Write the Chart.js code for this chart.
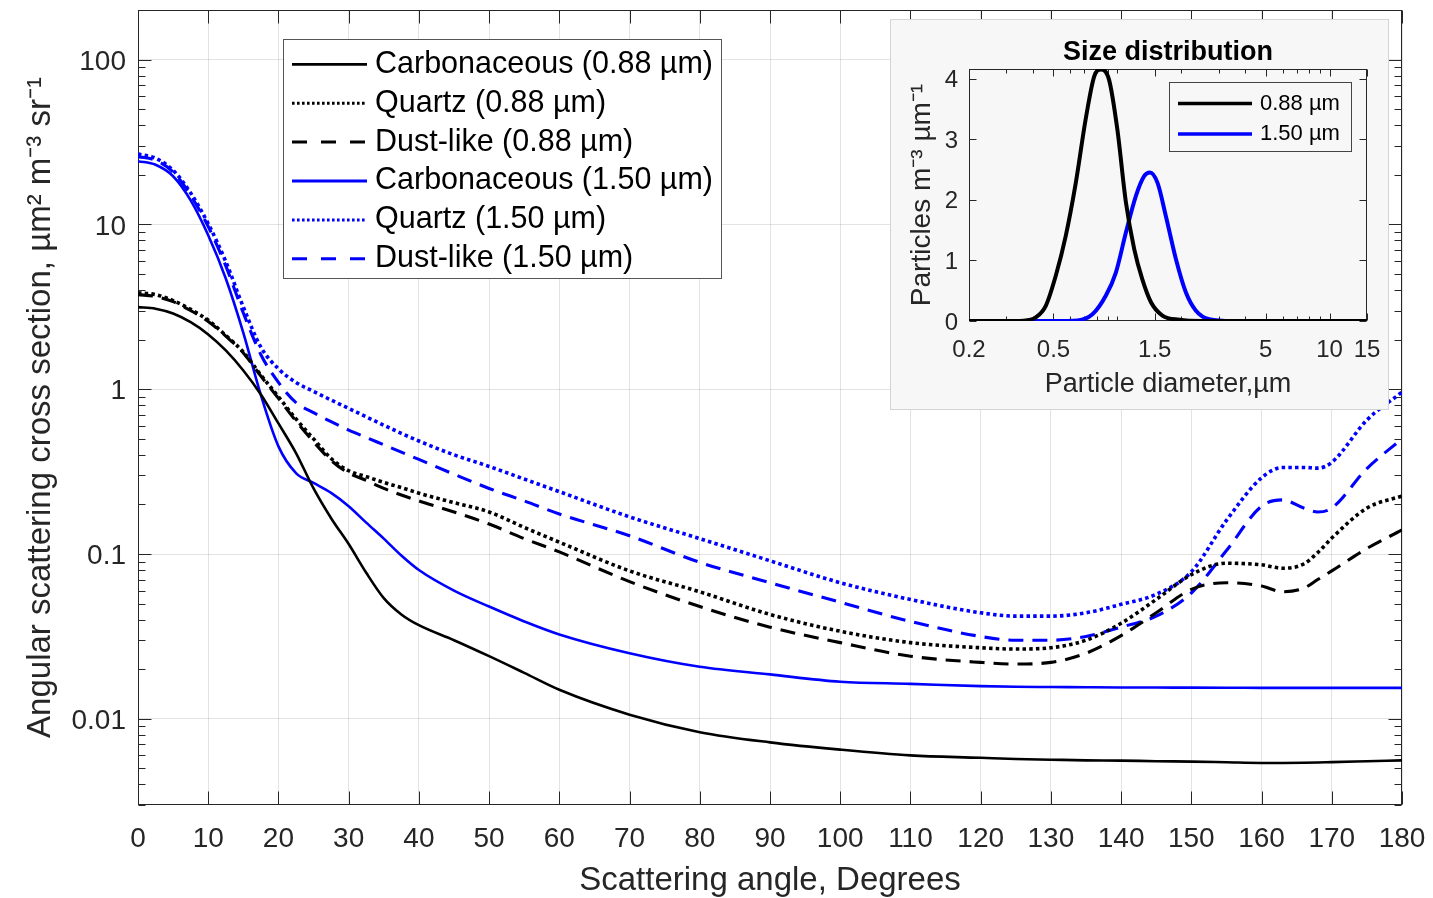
<!DOCTYPE html>
<html>
<head>
<meta charset="utf-8">
<title>Angular scattering cross section</title>
<script src="https://cdn.jsdelivr.net/npm/chart.js@4.4.1/dist/chart.umd.min.js"></script>
<style>
  html, body { margin: 0; padding: 0; background: #ffffff; }
  #wrap { position: relative; width: 1433px; height: 898px; overflow: hidden; background: #ffffff; }
  #main { position: absolute; left: 0; top: 0; }
  #inset { position: absolute; left: 890px; top: 19px; }
</style>
</head>
<body>
<div id="wrap">
  <canvas id="main" width="1433" height="898"></canvas>
  <canvas id="inset" width="499" height="391"></canvas>
</div>
<script>
// ---------------- DATA ----------------
const angles = [0, 2.5, 5, 7.5, 10, 12.5, 15, 17.5, 20, 22.5, 25, 27.5, 30, 32.5, 35, 37.5, 40, 45, 50, 55, 60, 70, 80, 90, 100, 110, 120, 125, 130, 135, 140, 145, 150, 155, 160, 163, 166, 168, 170, 175, 180];

const carbonaceous088 = [3.15, 3.08, 2.88, 2.55, 2.15, 1.72, 1.3, 0.93, 0.62, 0.41, 0.25, 0.165, 0.115, 0.077, 0.054, 0.043, 0.037, 0.030, 0.024, 0.019, 0.015, 0.0106, 0.0083, 0.0072, 0.0065, 0.0060, 0.0058, 0.0057, 0.00565, 0.0056, 0.00558, 0.00553, 0.0055, 0.00545, 0.0054, 0.0054, 0.00541, 0.00543, 0.00546, 0.00553, 0.0056];
const quartz088 = [3.85, 3.75, 3.45, 3.05, 2.62, 2.12, 1.68, 1.22, 0.9, 0.66, 0.5, 0.38, 0.32, 0.295, 0.272, 0.253, 0.234, 0.205, 0.18, 0.145, 0.118, 0.079, 0.059, 0.043, 0.034, 0.029, 0.027, 0.0265, 0.027, 0.030, 0.038, 0.053, 0.075, 0.088, 0.086, 0.082, 0.087, 0.102, 0.125, 0.19, 0.225];
const dustlike088 = [3.75, 3.65, 3.4, 3.0, 2.58, 2.1, 1.66, 1.2, 0.88, 0.64, 0.48, 0.37, 0.31, 0.28, 0.25, 0.228, 0.21, 0.18, 0.152, 0.124, 0.103, 0.068, 0.048, 0.036, 0.029, 0.024, 0.022, 0.0215, 0.022, 0.025, 0.032, 0.044, 0.061, 0.067, 0.064, 0.059, 0.062, 0.07, 0.079, 0.108, 0.14];
const carbonaceous150 = [24.2, 23.0, 19.6, 14.0, 8.6, 4.7, 2.2, 0.92, 0.45, 0.31, 0.27, 0.235, 0.195, 0.155, 0.124, 0.098, 0.08, 0.06, 0.048, 0.039, 0.0325, 0.025, 0.0207, 0.0186, 0.0168, 0.0163, 0.0158, 0.01565, 0.0156, 0.01555, 0.0155, 0.01548, 0.01546, 0.01544, 0.01542, 0.01541, 0.0154, 0.0154, 0.0154, 0.0154, 0.0154];
const quartz150 = [26.7, 25.2, 21.3, 15.5, 10.1, 5.95, 3.15, 1.8, 1.33, 1.1, 0.97, 0.86, 0.765, 0.68, 0.605, 0.54, 0.485, 0.4, 0.34, 0.285, 0.239, 0.168, 0.124, 0.091, 0.067, 0.053, 0.044, 0.042, 0.042, 0.044, 0.0495, 0.057, 0.078, 0.16, 0.29, 0.335, 0.335, 0.332, 0.36, 0.65, 0.96];
const dustlike150 = [25.8, 24.5, 20.8, 15.0, 9.7, 5.6, 2.9, 1.62, 1.1, 0.83, 0.72, 0.635, 0.565, 0.51, 0.46, 0.415, 0.375, 0.305, 0.25, 0.21, 0.175, 0.129, 0.089, 0.067, 0.051, 0.039, 0.0316, 0.030, 0.030, 0.0316, 0.036, 0.042, 0.058, 0.105, 0.195, 0.213, 0.19, 0.18, 0.19, 0.33, 0.5];

const seriesLabels = ['Carbonaceous (0.88 µm)', 'Quartz (0.88 µm)', 'Dust-like (0.88 µm)', 'Carbonaceous (1.50 µm)', 'Quartz (1.50 µm)', 'Dust-like (1.50 µm)'];

const yTickValues = [0.01, 0.1, 1, 10, 100];
const yTickLabels = ['0.01', '0.1', '1', '10', '100'];
const xTickValues = [0, 10, 20, 30, 40, 50, 60, 70, 80, 90, 100, 110, 120, 130, 140, 150, 160, 170, 180];

// Inset: size distribution
const diameters088 = [0.2, 0.3, 0.36, 0.413, 0.46, 0.513, 0.571, 0.637, 0.709, 0.778, 0.836, 0.914, 1.0, 1.097, 1.20, 1.31, 1.44, 1.63, 1.96, 2.5, 5, 15];
const counts088 = [0, 0, 0.005, 0.06, 0.25, 0.75, 1.4, 2.28, 3.33, 4.04, 4.15, 3.98, 3.16, 1.96, 1.19, 0.69, 0.31, 0.09, 0.02, 0, 0, 0];
const diameters150 = [0.2, 0.5, 0.65, 0.763, 0.883, 0.984, 1.097, 1.222, 1.337, 1.423, 1.546, 1.693, 1.888, 2.104, 2.346, 2.71, 3.5, 15];
const counts150 = [0, 0, 0.01, 0.11, 0.42, 0.8, 1.46, 2.06, 2.39, 2.45, 2.28, 1.73, 1.02, 0.47, 0.17, 0.03, 0, 0];
const insetLabels = ['0.88 µm', '1.50 µm'];
const insetXTickValues = [0.2, 0.5, 1.5, 5, 10, 15];
const insetXTickLabels = ['0.2', '0.5', '1.5', '5', '10', '15'];
const insetYTickValues = [0, 1, 2, 3, 4];

// ---------------- STYLE ----------------
const FONT = '"Liberation Sans", Arial, Helvetica, sans-serif';
const AXIS = '#262626';
const GRID = 'rgba(38,38,38,0.13)';
const INSET_BG = '#f7f7f7';

const lineStyles = {
  solid:  { dash: [],         width: 2.6, legendDash: [],         legendWidth: 2.8 },
  dotted: { dash: [3.5, 3.2], width: 3.6, legendDash: [2.6, 2.4], legendWidth: 3 },
  dashed: { dash: [15, 9],    width: 3.1, legendDash: [15, 14],   legendWidth: 3 }
};

function series(xs, ys) { return xs.map((x, i) => ({ x: x, y: ys[i] })); }

function ds(label, xs, ys, color, style, widthOverride, legendWidthOverride) {
  const s = lineStyles[style];
  return {
    label: label, data: series(xs, ys), borderColor: color, backgroundColor: color,
    borderWidth: widthOverride || s.width, borderDash: s.dash, pointRadius: 0, pointHoverRadius: 0,
    fill: false, cubicInterpolationMode: 'monotone', borderCapStyle: 'butt', borderJoinStyle: 'round',
    legendDash: s.legendDash, legendWidth: legendWidthOverride || s.legendWidth
  };
}

function logValues(min, max) {
  const out = [];
  for (let e = Math.floor(Math.log10(min)); e <= Math.ceil(Math.log10(max)); e++) {
    for (let m = 1; m <= 9; m++) {
      const v = parseFloat((m * Math.pow(10, e)).toPrecision(8));
      if (v >= min - 1e-12 && v <= max + 1e-12) out.push(v);
    }
  }
  return out;
}

function drawFrame(chart, cfg) {
  const { ctx, chartArea: a } = chart;
  const xs = chart.scales.x, ys = chart.scales.y;
  const L = a.left + 0.5, R = a.right - 0.5, T = a.top + 0.5, B = a.bottom - 0.5;
  ctx.save();
  ctx.strokeStyle = AXIS; ctx.lineWidth = 1; ctx.setLineDash([]);
  ctx.beginPath();
  const xt = (vals, len) => vals.forEach(v => {
    const p = Math.round(xs.getPixelForValue(v)) + 0.5;
    ctx.moveTo(p, B); ctx.lineTo(p, B - len); ctx.moveTo(p, T); ctx.lineTo(p, T + len);
  });
  const yt = (vals, len) => vals.forEach(v => {
    const p = Math.round(ys.getPixelForValue(v)) + 0.5;
    ctx.moveTo(L, p); ctx.lineTo(L + len, p); ctx.moveTo(R, p); ctx.lineTo(R - len, p);
  });
  xt(cfg.xMajor, cfg.majorLen); xt(cfg.xMinor, cfg.minorLen);
  yt(cfg.yMajor, cfg.majorLen); yt(cfg.yMinor, cfg.minorLen);
  ctx.stroke();
  ctx.strokeRect(L, T, R - L, B - T);
  ctx.restore();
}

function drawLegendBox(ctx, cfg, datasets) {
  ctx.save();
  ctx.fillStyle = cfg.bg; ctx.fillRect(cfg.x, cfg.y, cfg.w, cfg.h);
  ctx.strokeStyle = cfg.border; ctx.lineWidth = 1; ctx.setLineDash([]);
  ctx.strokeRect(cfg.x + 0.5, cfg.y + 0.5, cfg.w, cfg.h);
  ctx.font = cfg.font; ctx.textBaseline = 'middle'; ctx.textAlign = 'left';
  datasets.forEach((d, i) => {
    const y = cfg.row0 + i * cfg.rowStep;
    ctx.strokeStyle = d.borderColor; ctx.lineWidth = d.legendWidth; ctx.lineCap = 'butt';
    ctx.setLineDash(d.legendDash || []);
    ctx.beginPath(); ctx.moveTo(cfg.lineX0, y); ctx.lineTo(cfg.lineX1, y); ctx.stroke();
    ctx.fillStyle = '#000000'; ctx.fillText(d.label, cfg.textX, y);
  });
  ctx.restore();
}

// ---------------- MAIN CHART ----------------
const mainYMinor = logValues(0.003, 200).filter(v => !yTickValues.includes(v));

const mainDecor = {
  id: 'mainDecor',
  beforeDatasetsDraw(chart) {
    drawFrame(chart, { xMajor: xTickValues, xMinor: [], yMajor: yTickValues, yMinor: mainYMinor, majorLen: 13, minorLen: 7 });
  },
  afterDatasetsDraw(chart) {
    drawLegendBox(chart.ctx, {
      x: 283, y: 39, w: 438, h: 239, bg: '#ffffff', border: '#555555',
      row0: 64.3, rowStep: 38.9, lineX0: 292, lineX1: 367, textX: 375, font: '30.5px ' + FONT
    }, chart.data.datasets);
  }
};

new Chart(document.getElementById('main'), {
  type: 'line',
  data: {
    datasets: [
      ds(seriesLabels[0], angles, carbonaceous088, '#000000', 'solid'),
      ds(seriesLabels[1], angles, quartz088, '#000000', 'dotted'),
      ds(seriesLabels[2], angles, dustlike088, '#000000', 'dashed'),
      ds(seriesLabels[3], angles, carbonaceous150, '#0000ff', 'solid'),
      ds(seriesLabels[4], angles, quartz150, '#0000ff', 'dotted'),
      ds(seriesLabels[5], angles, dustlike150, '#0000ff', 'dashed')
    ]
  },
  options: {
    responsive: false, animation: false, devicePixelRatio: 1,
    layout: { padding: { top: 10, right: 31, left: 0, bottom: 0 } },
    plugins: { legend: { display: false }, tooltip: { enabled: false }, title: { display: false } },
    scales: {
      x: {
        type: 'linear', min: 0, max: 180,
        afterBuildTicks: s => { s.ticks = xTickValues.map(v => ({ value: v })); },
        afterFit: s => { s.height = 93; s.paddingLeft = 0; s.paddingRight = 0; },
        ticks: { autoSkip: false, maxRotation: 0, minRotation: 0, padding: 17, color: AXIS,
                 font: { family: FONT, size: 28 }, callback: v => String(v) },
        grid: { color: GRID, lineWidth: 1, drawTicks: false },
        border: { display: false },
        title: { display: true, text: 'Scattering angle, Degrees', color: AXIS,
                 font: { family: FONT, size: 33 }, padding: { top: 0, bottom: -3 } }
      },
      y: {
        type: 'logarithmic', min: 0.003, max: 200,
        afterBuildTicks: s => { s.ticks = yTickValues.map(v => ({ value: v })); },
        afterFit: s => { s.width = 138; s.paddingTop = 0; s.paddingBottom = 0; },
        ticks: { autoSkip: false, padding: 12, labelOffset: 2.5, color: AXIS,
                 font: { family: FONT, size: 28 },
                 callback: v => { const i = yTickValues.indexOf(v); return i >= 0 ? yTickLabels[i] : ''; } },
        grid: { color: GRID, lineWidth: 1, drawTicks: false },
        border: { display: false },
        title: { display: true, text: 'Angular scattering cross section, µm² m⁻³ sr⁻¹', color: AXIS,
                 font: { family: FONT, size: 33 }, padding: { top: 21, bottom: 0 } }
      }
    }
  },
  plugins: [mainDecor]
});

// ---------------- INSET CHART ----------------
const insetXMinor = logValues(0.2, 15).filter(v => !insetXTickValues.includes(v));

const insetDecor = {
  id: 'insetDecor',
  beforeDraw(chart) {
    const ctx = chart.ctx;
    ctx.save();
    ctx.fillStyle = INSET_BG; ctx.fillRect(0, 0, chart.width, chart.height);
    ctx.strokeStyle = '#d4d4d4'; ctx.lineWidth = 1;
    ctx.strokeRect(0.5, 0.5, chart.width - 1, chart.height - 1);
    ctx.restore();
  },
  beforeDatasetsDraw(chart) {
    drawFrame(chart, { xMajor: insetXTickValues, xMinor: insetXMinor, yMajor: insetYTickValues, yMinor: [], majorLen: 7, minorLen: 4 });
  },
  afterDatasetsDraw(chart) {
    const ctx = chart.ctx, a = chart.chartArea;
    ctx.save();
    ctx.font = 'bold 27px ' + FONT; ctx.fillStyle = '#000000';
    ctx.textAlign = 'center'; ctx.textBaseline = 'alphabetic';
    ctx.fillText('Size distribution', (a.left + a.right) / 2, 41);
    ctx.restore();
    drawLegendBox(ctx, {
      x: 279, y: 63, w: 182, h: 69, bg: INSET_BG, border: '#444444',
      row0: 84.5, rowStep: 30.6, lineX0: 288, lineX1: 362, textX: 370, font: '22px ' + FONT
    }, chart.data.datasets);
  }
};

new Chart(document.getElementById('inset'), {
  type: 'line',
  data: {
    datasets: [
      ds(insetLabels[0], diameters088, counts088, '#000000', 'solid', 4, 3.5),
      ds(insetLabels[1], diameters150, counts150, '#0000ff', 'solid', 4, 3.5)
    ]
  },
  options: {
    responsive: false, animation: false, devicePixelRatio: 1,
    layout: { padding: { top: 50, right: 22, left: 0, bottom: 0 } },
    plugins: { legend: { display: false }, tooltip: { enabled: false }, title: { display: false } },
    scales: {
      x: {
        type: 'logarithmic', min: 0.2, max: 15,
        afterBuildTicks: s => { s.ticks = insetXTickValues.map(v => ({ value: v })); },
        afterFit: s => { s.height = 89; s.paddingLeft = 0; s.paddingRight = 0; },
        ticks: { autoSkip: false, maxRotation: 0, minRotation: 0, padding: 15, color: AXIS,
                 font: { family: FONT, size: 24 },
                 callback: v => { const i = insetXTickValues.indexOf(v); return i >= 0 ? insetXTickLabels[i] : ''; } },
        grid: { display: false, drawTicks: false },
        border: { display: false },
        title: { display: true, text: 'Particle diameter,µm', color: AXIS,
                 font: { family: FONT, size: 27 }, padding: { top: 0, bottom: 9 } }
      },
      y: {
        type: 'linear', min: 0, max: 4.16,
        afterBuildTicks: s => { s.ticks = insetYTickValues.map(v => ({ value: v })); },
        afterFit: s => { s.width = 79; s.paddingTop = 0; s.paddingBottom = 0; },
        ticks: { autoSkip: false, padding: 11, labelOffset: 2, color: AXIS,
                 font: { family: FONT, size: 24 }, callback: v => String(v) },
        grid: { display: false, drawTicks: false },
        border: { display: false },
        title: { display: true, text: 'Particles m⁻³ µm⁻¹', color: AXIS,
                 font: { family: FONT, size: 28 }, padding: { top: 15, bottom: 0 } }
      }
    }
  },
  plugins: [insetDecor]
});
</script>
</body>
</html>
